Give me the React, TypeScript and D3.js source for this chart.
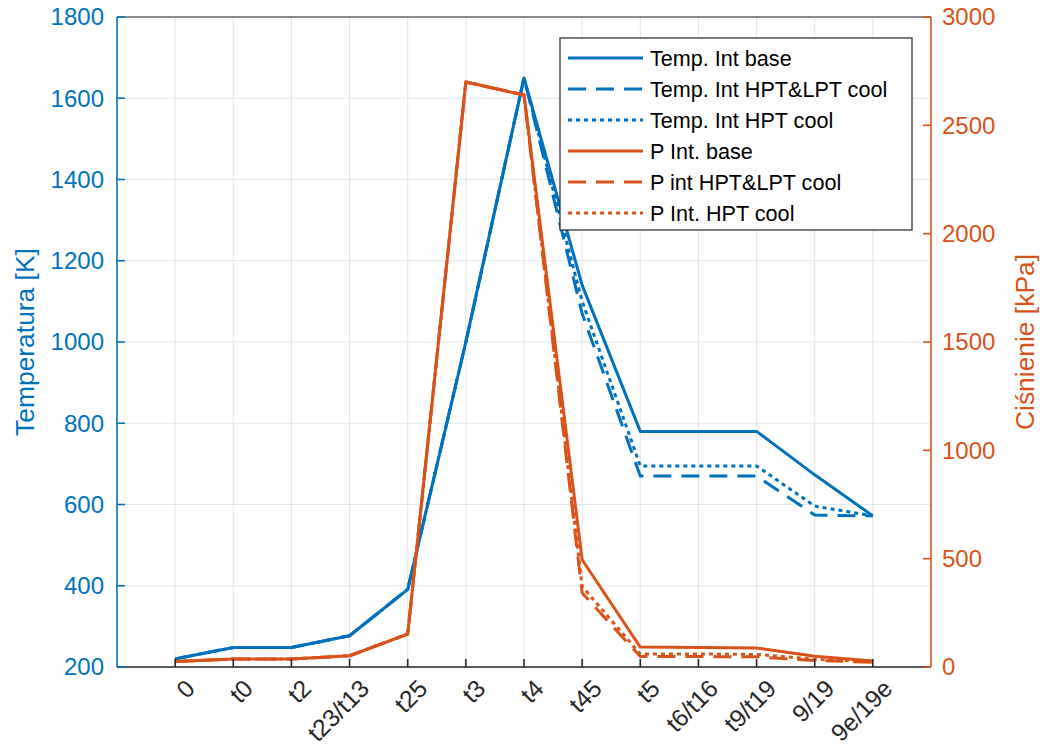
import React from "react";
import * as d3 from "d3";

// categories along the engine stations
const stations = ["0", "t0", "t2", "t23/t13", "t25", "t3", "t4", "t45", "t5", "t6/t16", "t9/t19", "9/19", "9e/19e"];

// temperatures [K]
const tempBase = [220, 248, 248, 277, 391, 1000, 1650, 1140, 780, 780, 780, 673, 572];
const tempHptLpt = [220, 248, 248, 277, 391, 1000, 1650, 1070, 670, 670, 670, 574, 572];
const tempHpt = [220, 248, 248, 277, 391, 1000, 1650, 1100, 695, 695, 695, 596, 572];

// pressures [kPa]
const presBase = [25, 37, 37, 52, 152, 2700, 2640, 495, 92, 90, 88, 50, 28];
const presHptLpt = [25, 37, 37, 52, 152, 2700, 2640, 342, 48, 48, 47, 30, 22];
const presHpt = [25, 37, 37, 52, 152, 2700, 2640, 372, 60, 60, 58, 36, 24];

const tempTicks = [200, 400, 600, 800, 1000, 1200, 1400, 1600, 1800];
const presTicks = [0, 500, 1000, 1500, 2000, 2500, 3000];

const legendNames = [
  "Temp. Int base",
  "Temp. Int HPT&LPT cool",
  "Temp. Int HPT cool",
  "P Int. base",
  "P int HPT&LPT cool",
  "P Int. HPT cool",
];

const BLUE = "#0072BD";
const ORANGE = "#D95319";
const DARK = "#262626";
const FONT = "'Liberation Sans', Arial, sans-serif";

const W = 1040;
const H = 748;
const left = 117;
const right = 931;
const top = 17;
const bottom = 667;

const App = () => {
  const x = d3.scaleLinear().domain([-1, 13]).range([left, right]);
  const yT = d3.scaleLinear().domain([200, 1800]).range([bottom, top]);
  const yP = d3.scaleLinear().domain([0, 3000]).range([bottom, top]);

  const lineT = d3.line<number>().x((_, i) => x(i)).y(d => yT(d));
  const lineP = d3.line<number>().x((_, i) => x(i)).y(d => yP(d));

  const dashes = [null, "18,10", "4,4"];
  const series = [
    { d: lineT(tempBase), c: BLUE, dash: dashes[0] },
    { d: lineT(tempHptLpt), c: BLUE, dash: dashes[1] },
    { d: lineT(tempHpt), c: BLUE, dash: dashes[2] },
    { d: lineP(presBase), c: ORANGE, dash: dashes[0] },
    { d: lineP(presHptLpt), c: ORANGE, dash: dashes[1] },
    { d: lineP(presHpt), c: ORANGE, dash: dashes[2] },
  ];

  const legX = 560;
  const legY = 38;
  const legW = 352;
  const legH = 192;

  return (
    <svg width={W} height={H} style={{ position: "absolute", left: 0, top: 0, background: "#fff" }} fontFamily={FONT}>
      <rect x={0} y={0} width={W} height={H} fill="#fff" />
      {/* grid */}
      <g>
        {tempTicks.map(t => (
          <line key={"gy" + t} x1={left} x2={right} y1={yT(t)} y2={yT(t)} stroke="#dde8f2" strokeWidth={1} />
        ))}
        {stations.map((s, i) => (
          <line key={"gx" + s} x1={x(i)} x2={x(i)} y1={top} y2={bottom} stroke="#e3e3e3" strokeWidth={1} />
        ))}
      </g>
      {/* data */}
      <g fill="none" strokeWidth={3} strokeLinejoin="round">
        {series.map((s, i) => (
          <path key={i} d={s.d || ""} stroke={s.c} strokeDasharray={s.dash || undefined} />
        ))}
      </g>
      {/* axes */}
      <line x1={left} x2={right} y1={top} y2={top} stroke={DARK} strokeWidth={1.2} />
      <line x1={left} x2={right} y1={bottom} y2={bottom} stroke={DARK} strokeWidth={1.6} />
      <line x1={left} x2={left} y1={top} y2={bottom} stroke={BLUE} strokeWidth={1.6} />
      <line x1={right} x2={right} y1={top} y2={bottom} stroke={ORANGE} strokeWidth={1.6} />
      {stations.map((s, i) => (
        <g key={"xt" + s}>
          <line x1={x(i)} x2={x(i)} y1={bottom} y2={bottom - 8} stroke={DARK} strokeWidth={1.6} />
          <text
            transform={`translate(${x(i) + 9},${bottom + 11}) rotate(-45)`}
            textAnchor="end"
            dy="0.7em"
            fontSize={24.5}
            fill={DARK}
          >
            {s}
          </text>
        </g>
      ))}
      {tempTicks.map(t => (
        <g key={"yt" + t}>
          <line x1={left} x2={left + 8} y1={yT(t)} y2={yT(t)} stroke={BLUE} strokeWidth={1.6} />
          <text x={left - 13} y={yT(t)} dy="0.35em" textAnchor="end" fontSize={24} fill={BLUE}>
            {t}
          </text>
        </g>
      ))}
      {presTicks.map(t => (
        <g key={"pt" + t}>
          <line x1={right} x2={right - 8} y1={yP(t)} y2={yP(t)} stroke={ORANGE} strokeWidth={1.6} />
          <text x={right + 11} y={yP(t)} dy="0.35em" textAnchor="start" fontSize={24} fill={ORANGE}>
            {t}
          </text>
        </g>
      ))}
      <text transform={`translate(34,${(top + bottom) / 2}) rotate(-90)`} textAnchor="middle" fontSize={26.4} fill={BLUE}>
        Temperatura [K]
      </text>
      <text transform={`translate(1034,${(top + bottom) / 2}) rotate(-90)`} textAnchor="middle" fontSize={26.4} fill={ORANGE}>
        Ciśnienie [kPa]
      </text>
      {/* legend */}
      <g>
        <rect x={legX} y={legY} width={legW} height={legH} fill="#fff" stroke={DARK} strokeWidth={1.2} />
        {legendNames.map((n, i) => {
          const cy = legY + 20 + i * 31;
          return (
            <g key={n}>
              <line x1={legX + 8} x2={legX + 83} y1={cy} y2={cy} stroke={series[i].c} strokeWidth={3} strokeDasharray={series[i].dash || undefined} />
              <text x={legX + 90} y={cy} dy="0.35em" fontSize={21.6} fill="#000">
                {n}
              </text>
            </g>
          );
        })}
      </g>
    </svg>
  );
};

export default App;
